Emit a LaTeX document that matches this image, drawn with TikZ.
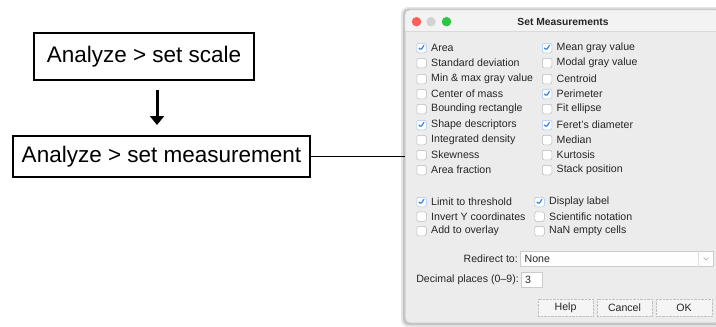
\documentclass[tikz,border=0pt]{standalone}
\usepackage{fontspec}
\setmainfont{Liberation Sans}
\usetikzlibrary{arrows.meta}

\definecolor{winbg}{HTML}{ECECEC}
\definecolor{titlebg}{HTML}{F3F3F3}
\definecolor{textgray}{HTML}{262626}
\definecolor{tickblue}{HTML}{2F7BE0}
\definecolor{macred}{HTML}{FF5F57}
\definecolor{macgray}{HTML}{D2D2D2}
\definecolor{macgreen}{HTML}{2AC840}

\newcommand{\boxfont}{\fontsize{22.5}{26}\selectfont}
\newcommand{\dlgfont}{\fontsize{10.6}{12}\selectfont}
\newcommand{\titlefont}{\fontsize{10.3}{12}\selectfont\bfseries}

\begin{document}
\begin{tikzpicture}[x = 1pt, y = -1pt,
                    stepbox/.style = {draw, line width = 2pt, font = \boxfont, inner sep = 0pt},
                    arr/.style = {line width = 3pt, -{Triangle[width = 14pt, length = 9pt]}},
                    link/.style = {line width = 1pt},
                    win/.style = {fill = winbg, draw = gray!45, line width = 0.6pt, rounded corners = 5pt, inner sep = 0pt},
                    light/.style = {circle, minimum size = 9.5pt, inner sep = 0pt},
                    lbl/.style = {font = \dlgfont, text = textgray, inner sep = 0pt},
                    cbox/.style = {draw = gray!55, fill = white, rounded corners = 1.5pt, minimum size = 9.5pt,
                                   inner sep = 0pt, line width = 0.5pt},
                    cboxon/.style = {cbox, draw = tickblue!45,
                                     path picture = {\draw [tickblue, line width = 1.1pt]
                                       ([shift = {(-2.6pt, 0.2pt)}]path picture bounding box.center) --
                                       ([shift = {(-0.8pt, -2.2pt)}]path picture bounding box.center) --
                                       ([shift = {(2.6pt, 2.8pt)}]path picture bounding box.center);}},
                    field/.style = {draw = gray!40, fill = white!97!winbg, line width = 0.5pt, inner sep = 0pt},
                    btn/.style = {draw = gray!50, densely dotted, fill = white!50!winbg, font = \dlgfont, text = textgray,
                                  minimum height = 17pt, inner sep = 0pt}]
    \useasboundingbox (0, 0) rectangle (716, 327);

    % flow on the left
    \node [stepbox, minimum width = 220pt, minimum height = 47pt] (scale) at (144, 56.5) {Analyze > set scale};
    \node [stepbox, minimum width = 297pt, minimum height = 41pt] (meas) at (161.5, 156.5) {Analyze > set measurement};
    \coordinate (arrx) at (157, 0);
    \draw [arr, shorten < = 9pt, shorten > = 10pt] (scale.south -| arrx) -- (meas.north -| arrx);

    % dialog window
    \fill [black, opacity = 0.10, rounded corners = 7pt] (401, 7) rectangle (724, 327);
    \fill [black, opacity = 0.15, rounded corners = 6pt] (403, 8.5) rectangle (722, 325);
    \node [win, minimum width = 315pt, minimum height = 313pt] (dialog) at (562.5, 166.5) {};
    \fill [titlebg, rounded corners = 5pt] (dialog.north west) rectangle ([yshift = -22pt]dialog.north east);
    \fill [titlebg] ([yshift = -14pt]dialog.north west) rectangle ([yshift = -22pt]dialog.north east);
    \draw [gray!30, line width = 0.6pt] ([yshift = -22pt]dialog.north west) -- ([yshift = -22pt]dialog.north east);
    \draw [gray!45, line width = 0.6pt, rounded corners = 5pt] (dialog.north west) rectangle (dialog.south east);

    \draw [link] (meas.east) -- (meas.east -| dialog.west);

    \node [light, fill = macred] (close) at (416.5, 21.7) {};
    \node [light, fill = macgray] (mini) at (431, 21.7) {};
    \node [light, fill = macgreen] (zoom) at (446.5, 21.7) {};
    \node [font = \titlefont, text = textgray] (title) at (563, 21.5) {Set Measurements};

    % measurements
    \node [cboxon, label = {[lbl, label distance = 4.5pt]right:Area}] (area) at (421.5, 48) {};
    \node [cbox, label = {[lbl, label distance = 4.5pt]right:Standard deviation}] (stdev) at (421.5, 63) {};
    \node [cbox, label = {[lbl, label distance = 4.5pt]right:Min \& max gray value}] (minmax) at (421.5, 79) {};
    \node [cbox, label = {[lbl, label distance = 4.5pt]right:Center of mass}] (com) at (421.5, 94) {};
    \node [cbox, label = {[lbl, label distance = 4.5pt]right:Bounding rectangle}] (bound) at (421.5, 109) {};
    \node [cboxon, label = {[lbl, label distance = 4.5pt]right:Shape descriptors}] (shape) at (421.5, 125) {};
    \node [cbox, label = {[lbl, label distance = 4.5pt]right:Integrated density}] (intden) at (421.5, 140) {};
    \node [cbox, label = {[lbl, label distance = 4.5pt]right:Skewness}] (skew) at (421.5, 155) {};
    \node [cbox, label = {[lbl, label distance = 4.5pt]right:Area fraction}] (afrac) at (421.5, 170) {};

    \node [cboxon, label = {[lbl, label distance = 4.5pt]right:Mean gray value}] (mean) at (547, 48) {};
    \node [cbox, label = {[lbl, label distance = 4.5pt]right:Modal gray value}] (modal) at (547, 63) {};
    \node [cbox, label = {[lbl, label distance = 4.5pt]right:Centroid}] (centroid) at (547, 79) {};
    \node [cboxon, label = {[lbl, label distance = 4.5pt]right:Perimeter}] (perim) at (547, 94) {};
    \node [cbox, label = {[lbl, label distance = 4.5pt]right:Fit ellipse}] (ellipse) at (547, 109) {};
    \node [cboxon, label = {[lbl, label distance = 4.5pt]right:Feret's diameter}] (feret) at (547, 125) {};
    \node [cbox, label = {[lbl, label distance = 4.5pt]right:Median}] (median) at (547, 140) {};
    \node [cbox, label = {[lbl, label distance = 4.5pt]right:Kurtosis}] (kurt) at (547, 155) {};
    \node [cbox, label = {[lbl, label distance = 4.5pt]right:Stack position}] (stack) at (547, 170) {};

    % options
    \node [cboxon, label = {[lbl, label distance = 4.5pt]right:Limit to threshold}] (limit) at (421.5, 202) {};
    \node [cbox, label = {[lbl, label distance = 4.5pt]right:Invert Y coordinates}] (invert) at (421.5, 216.5) {};
    \node [cbox, label = {[lbl, label distance = 4.5pt]right:Add to overlay}] (overlay) at (421.5, 231) {};
    \node [cboxon, label = {[lbl, label distance = 4.5pt]right:Display label}] (display) at (539.5, 202) {};
    \node [cbox, label = {[lbl, label distance = 4.5pt]right:Scientific notation}] (sci) at (539.5, 216.5) {};
    \node [cbox, label = {[lbl, label distance = 4.5pt]right:NaN empty cells}] (nan) at (539.5, 231) {};

    % fields
    \node [field, minimum width = 193pt, minimum height = 15pt, anchor = north west] (redir) at (520, 251) {};
    \node [lbl, anchor = west] (none) at ([xshift = 4.5pt]redir.west) {None};
    \node [lbl, anchor = east] (redirlbl) at ([xshift = -2pt]redir.west) {Redirect to:};
    \draw [gray!25, line width = 0.5pt] ([xshift = -15pt]redir.north east) -- ([xshift = -15pt]redir.south east);
    \draw [gray!70, line width = 0.5pt] ([xshift = -10pt, yshift = 1.2pt]redir.east) -- ++(2.5pt, -2.5pt) -- ++(2.5pt, 2.5pt);

    \node [field, fill = white, minimum width = 21pt, minimum height = 15pt, anchor = north west] (dec) at (521, 272) {};
    \node [lbl, anchor = west] (three) at ([xshift = 4pt]dec.west) {3};
    \node [lbl, anchor = east] (declbl) at ([xshift = -2pt]dec.west) {Decimal places (0--9):};

    \node [btn, minimum width = 55pt] (help) at (565.5, 307.5) {Help};
    \node [btn, minimum width = 55pt] (cancel) at (624.5, 307.5) {Cancel};
    \node [btn, minimum width = 56pt] (ok) at (684, 307.5) {OK};
\end{tikzpicture}
\end{document}
